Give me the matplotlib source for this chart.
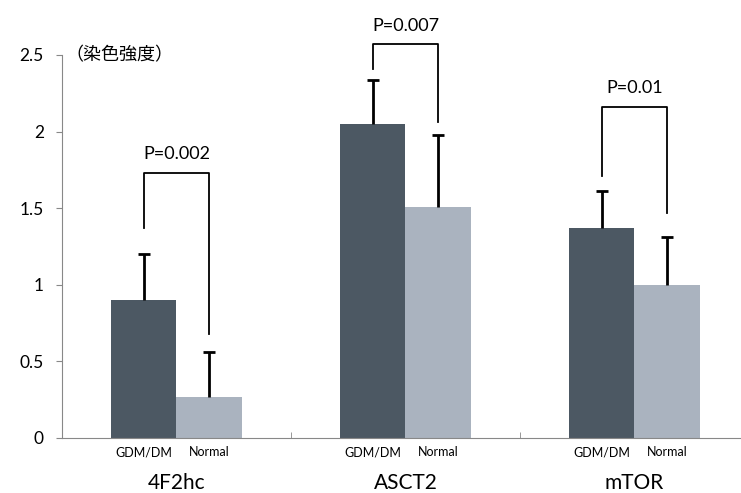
import numpy as np
import matplotlib.pyplot as plt

plt.rcParams['font.family'] = ['Lato', 'Noto Sans CJK JP', 'DejaVu Sans']

# 染色強度 data
markers = ['4F2hc', 'ASCT2', 'mTOR']
gdm_mean = [0.90, 2.05, 1.37]
gdm_sd = [0.30, 0.29, 0.24]
normal_mean = [0.27, 1.51, 1.00]
normal_sd = [0.29, 0.47, 0.31]
p_labels = ['P=0.002', 'P=0.007', 'P=0.01']
# bracket: top, left drop end, right drop end
bracket_top = [1.73, 2.57, 2.16]
bracket_left = [1.37, 2.41, 1.71]
bracket_right = [0.68, 2.06, 1.47]

dark = '#4c5863'
light = '#aab3bf'

fig = plt.figure(figsize=(7.41, 4.93), dpi=100)
ax = fig.add_axes([62 / 741, 1 - 438 / 493, 687 / 741, (438 - 55) / 493])

x = np.arange(len(markers))
w = 0.284
ax.bar(x - w / 2, gdm_mean, w, color=dark)
ax.bar(x + w / 2, normal_mean, w, color=light)

# upward-only error bars with a cap on top
for xs, m, sd in [(x - w / 2, gdm_mean, gdm_sd), (x + w / 2, normal_mean, normal_sd)]:
    top = np.array(m) + np.array(sd)
    ax.vlines(xs, m, top, color='black', lw=2)
    ax.plot(xs, top, '_', color='black', ms=9, mew=2, linestyle='none')

for i in range(len(markers)):
    xl, xr = x[i] - w / 2, x[i] + w / 2
    ax.plot([xl, xl, xr, xr], [bracket_left[i], bracket_top[i], bracket_top[i], bracket_right[i]],
            color='black', lw=1.3, clip_on=False)
    ax.text(x[i], bracket_top[i] + 0.07, p_labels[i], ha='center', va='bottom',
            fontsize=13, clip_on=False)
    ax.text(xl, -0.055, 'GDM/DM', ha='center', va='top', fontsize=9)
    ax.text(xr, -0.055, 'Normal', ha='center', va='top', fontsize=9)

ax.set_xlim(-0.5, 2.5)
ax.set_ylim(0, 2.5)
ax.set_xticks(x)
ax.set_xticklabels(markers, fontsize=15)
ax.tick_params(axis='x', length=0, pad=25)
ax.set_xticks([-0.5, 0.5, 1.5, 2.5], minor=True)
ax.tick_params(axis='x', which='minor', length=4, color='#888888', direction='in')
ax.set_yticks([0, 0.5, 1, 1.5, 2, 2.5])
ax.set_yticklabels(['0', '0.5', '1', '1.5', '2', '2.5'], fontsize=12.5)
ax.tick_params(axis='y', length=4, color='#888888', pad=9)

for s in ['top', 'right']:
    ax.spines[s].set_visible(False)
ax.spines['left'].set_color('#888888')
ax.spines['bottom'].set_color('#888888')

ax.text(0.005, 2.5, '（染色強度）', ha='left', va='center', fontsize=13,
        family=['Noto Sans CJK JP', 'DejaVu Sans'], transform=ax.get_yaxis_transform())

fig.savefig('out.png', dpi=100, facecolor='white')
